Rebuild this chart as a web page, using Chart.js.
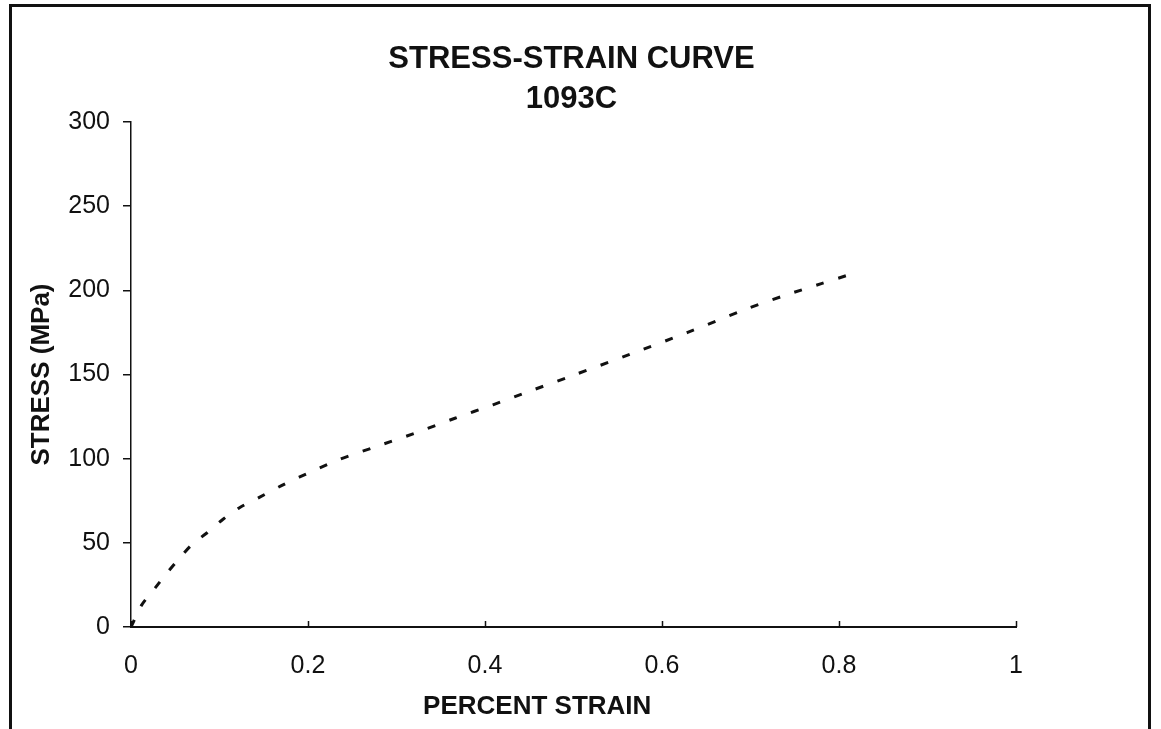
<!DOCTYPE html>
<html>
<head>
<meta charset="utf-8">
<script src="https://cdn.jsdelivr.net/npm/chart.js@4"></script>
<style>
  html, body { margin: 0; padding: 0; background: #fff; }
  #wrap { position: relative; width: 1161px; height: 729px; overflow: hidden; }
  #frame { position: absolute; left: 9px; top: 4px; width: 1142px; height: 800px;
           box-sizing: border-box; border: 3px solid #111; pointer-events: none; }
</style>
</head>
<body>
<div id="wrap">
  <canvas id="chart" width="1161" height="729"></canvas>
  <div id="frame"></div>
</div>
<script>
    // values
    const strain = [0, 0.012, 0.027, 0.042, 0.055, 0.069, 0.086, 0.104, 0.123, 0.145, 0.17, 0.19,
                    0.233, 0.276, 0.32, 0.366, 0.409, 0.45, 0.497, 0.564, 0.629, 0.696, 0.739, 0.78, 0.81];
    const stress = [0, 13, 23, 33, 41, 49, 56, 64, 71, 77, 84, 89,
                    99, 107, 115, 124, 132, 140, 149, 162, 175, 189, 197, 204, 209];
    const titleLines = ['STRESS-STRAIN CURVE', '1093C'];
    const xTitle = 'PERCENT STRAIN';
    const yTitle = 'STRESS (MPa)';

    const points = strain.map((s, i) => ({ x: s, y: stress[i] }));
    const fam = '"Liberation Sans", Arial, sans-serif';

    // inward x ticks, and the x title which sits a bit left of centre in the scan
    const xExtras = {
        id: 'xExtras',
        afterDraw(chart) {
            const xs = chart.scales.x;
            const ctx = chart.ctx;
            ctx.save();
            ctx.strokeStyle = '#111';
            ctx.lineWidth = 1.5;
            xs.ticks.forEach(t => {
                const px = Math.round(xs.getPixelForValue(t.value)) + 0.5;
                ctx.beginPath();
                ctx.moveTo(px, xs.top);
                ctx.lineTo(px, xs.top - 6);
                ctx.stroke();
            });
            ctx.fillStyle = '#111';
            ctx.font = 'bold 26px ' + fam;
            ctx.textAlign = 'center';
            ctx.textBaseline = 'middle';
            ctx.fillText(xTitle, xs.left + xs.width * 0.459, xs.bottom - 22);
            ctx.restore();
        }
    };

    new Chart(document.getElementById('chart'), {
        type: 'line',
        data: {
            datasets: [{
                data: points,
                borderColor: '#111',
                borderWidth: 3,
                borderDash: [8, 15],
                pointRadius: 0,
                tension: 0.3,
                fill: false
            }]
        },
        options: {
            responsive: false,
            animation: false,
            layout: { padding: { left: 0, right: 18, top: 0, bottom: 0 } },
            plugins: {
                legend: { display: false },
                tooltip: { enabled: false },
                title: {
                    display: true,
                    text: titleLines,
                    color: '#111',
                    font: { family: fam, size: 31, weight: 'bold', lineHeight: 1.29 },
                    padding: { top: 39, bottom: 3 }
                }
            },
            scales: {
                x: {
                    type: 'linear',
                    min: 0, max: 1,
                    afterFit(s) { s.height = 102; },
                    ticks: { stepSize: 0.2, color: '#111', padding: 24,
                             font: { family: fam, size: 25 },
                             callback: v => String(Number(v.toFixed(2))) },
                    grid: { drawOnChartArea: false, drawTicks: false },
                    border: { color: '#111', width: 2 },
                    title: { display: false }
                },
                y: {
                    min: 0, max: 300,
                    afterFit(s) { s.width = 131; },
                    ticks: { stepSize: 50, color: '#111', padding: 13,
                             font: { family: fam, size: 25 } },
                    grid: { drawOnChartArea: false, tickLength: 8, color: '#111', lineWidth: 1.5 },
                    border: { color: '#111', width: 1.5 },
                    title: { display: true, text: yTitle, color: '#111',
                             font: { family: fam, size: 26, weight: 'bold' },
                             padding: { top: 26, bottom: 0 } }
                },
                // empty spacer on the right so the plot ends where the scan's does
                spacer: {
                    position: 'right',
                    display: true,
                    afterFit(s) { s.width = 127; },
                    ticks: { display: false },
                    grid: { display: false },
                    border: { display: false }
                }
            }
        },
        plugins: [xExtras]
    });
</script>
</body>
</html>
